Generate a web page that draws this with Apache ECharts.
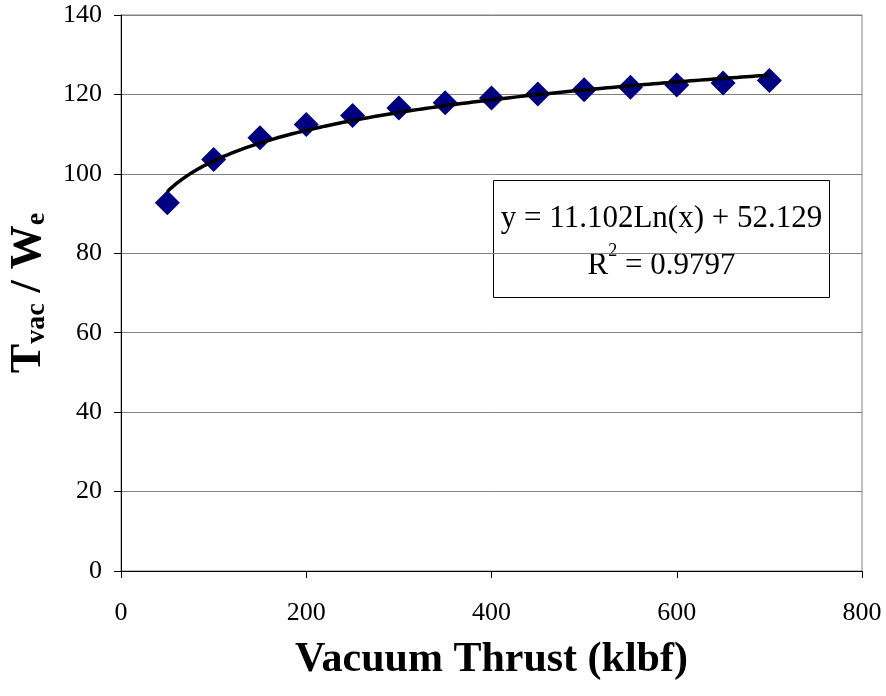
<!DOCTYPE html>
<html>
<head>
<meta charset="utf-8">
<script src="https://cdn.jsdelivr.net/npm/echarts@6/dist/echarts.min.js"></script>
<style>
  html, body { margin: 0; padding: 0; background: #fff; }
  #chart { width: 886px; height: 696px; }
</style>
</head>
<body>
<div id="chart"></div>
<script>
// Vacuum thrust (klbf) against thrust-to-engine-weight ratio
const thrust = [50, 100, 150, 200, 250, 300, 350, 400, 450, 500, 550, 600, 650, 700];
const ratio = [92.7, 103.6, 109.1, 112.4, 114.7, 116.6, 117.9, 119.1, 120.1, 121.2, 121.8, 122.4, 122.9, 123.5];

// Logarithmic trend: y = a*Ln(x) + b
const trendCoef = [11.102, 52.129];
const trendR2 = '0.9797';

const xTicks = { min: 0, max: 800, interval: 200 };
const yTicks = { min: 0, max: 140, interval: 20 };

const serif = '"Liberation Serif", "DejaVu Serif", serif';

const scatterData = thrust.map((x, i) => [x, ratio[i]]);
const trendData = [];
for (let x = thrust[0]; x <= thrust[thrust.length - 1]; x += 5) {
  trendData.push([x, trendCoef[0] * Math.log(x) + trendCoef[1]]);
}

const chart = echarts.init(document.getElementById('chart'), null, { renderer: 'canvas' });
chart.setOption({
  backgroundColor: '#fff',
  animation: false,
  grid: {
    left: 121, right: 24, top: 15, bottom: 125,
    containLabel: false, outerBoundsMode: 'none',
    show: true, borderColor: '#808080', borderWidth: 1
  },
  xAxis: {
    type: 'value', min: xTicks.min, max: xTicks.max, interval: xTicks.interval,
    name: 'Vacuum Thrust (klbf)', nameLocation: 'middle', nameGap: 68,
    nameTextStyle: { fontFamily: serif, fontWeight: 'bold', fontSize: 42, color: '#000' },
    axisLine: { lineStyle: { color: '#000', width: 1 } },
    axisTick: { show: true, length: 7, lineStyle: { color: '#000' } },
    axisLabel: { fontFamily: serif, fontSize: 26, color: '#000', margin: 29 },
    splitLine: { show: false }
  },
  yAxis: {
    type: 'value', min: yTicks.min, max: yTicks.max, interval: yTicks.interval,
    name: '{t|T}{s|vac}{t| / W}{s|e}', nameLocation: 'middle', nameGap: 70, nameRotate: 90,
    nameTextStyle: {
      rich: {
        t: { fontFamily: serif, fontWeight: 'bold', fontSize: 44, color: '#000', verticalAlign: 'bottom', lineHeight: 48 },
        s: { fontFamily: serif, fontWeight: 'bold', fontSize: 28, color: '#000', verticalAlign: 'bottom', lineHeight: 40 }
      }
    },
    axisLine: { show: true, lineStyle: { color: '#000', width: 1 } },
    axisTick: { show: true, length: 7, lineStyle: { color: '#000' } },
    axisLabel: { fontFamily: serif, fontSize: 26, color: '#000', margin: 19 },
    splitLine: { show: true, lineStyle: { color: '#808080', width: 1 } }
  },
  series: [
    {
      type: 'scatter', data: scatterData, symbol: 'diamond', symbolSize: [25, 25],
      itemStyle: { color: '#000080', opacity: 1 }, z: 2
    },
    {
      type: 'line', data: trendData, showSymbol: false, symbol: 'none',
      lineStyle: { color: '#000', width: 3.5 }, z: 3
    }
  ],
  graphic: [
    {
      type: 'group', left: 493, top: 180, z: 10,
      children: [
        {
          type: 'rect',
          shape: { x: 0, y: 0, width: 336, height: 117 },
          style: { fill: '#fff', stroke: '#000', lineWidth: 1 }
        },
        {
          type: 'text',
          style: {
            x: 168, y: 62,
            text: '{eq|y = ' + trendCoef[0].toFixed(3) + 'Ln(x) + ' + trendCoef[1].toFixed(3) + '}\n{eq|R}{sup|2}{eq| = ' + trendR2 + '}',
            align: 'center', verticalAlign: 'middle',
            rich: {
              eq: { fontFamily: serif, fontSize: 31, color: '#000', lineHeight: 47 },
              sup: { fontFamily: serif, fontSize: 18, color: '#000', lineHeight: 47, verticalAlign: 'top', padding: [0, 0, 16, 0] }
            }
          }
        }
      ]
    }
  ]
});
</script>
</body>
</html>
